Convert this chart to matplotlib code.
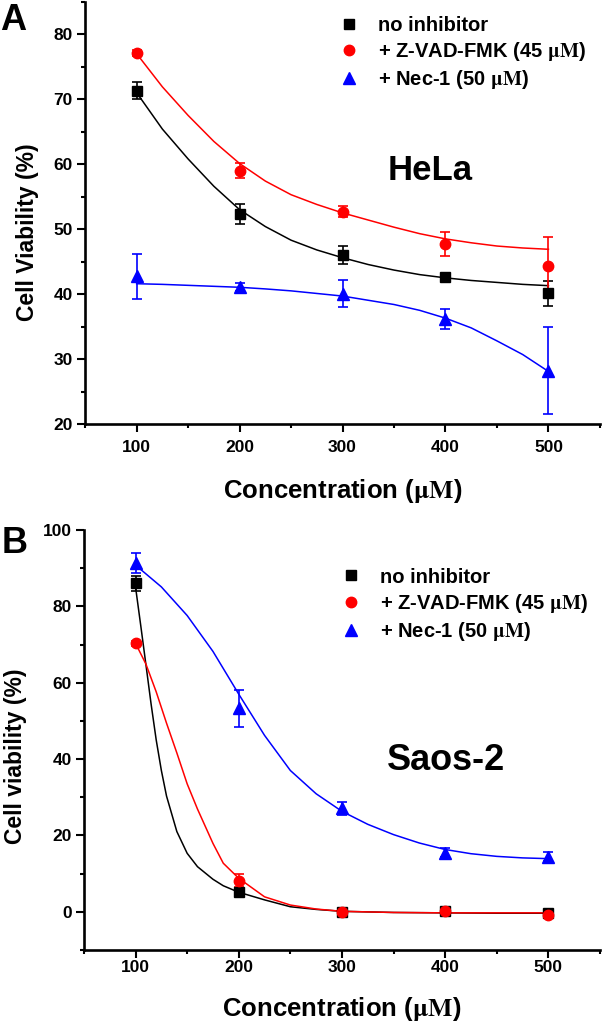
import matplotlib
matplotlib.use("Agg")
import matplotlib.pyplot as plt
from matplotlib.lines import Line2D
from matplotlib.ticker import MultipleLocator

plt.rcParams['font.family'] = ['Liberation Sans', 'DejaVu Sans']
plt.rcParams['font.weight'] = 'bold'
plt.rcParams['mathtext.fontset'] = 'stix'

# ---- data ----
conc = [100, 200, 300, 400, 500]

# A: HeLa
hela_none = [71.3, 52.3, 46.0, 42.6, 40.1]
hela_none_err = [1.3, 1.55, 1.35, 0.4, 1.9]
hela_zvad = [77.1, 59.0, 52.7, 47.7, 44.4]
hela_zvad_err = [0.4, 1.2, 0.8, 1.85, 4.4]
hela_nec = [42.75, 41.05, 40.05, 36.2, 28.2]
hela_nec_err = [3.5, 0.6, 2.05, 1.55, 6.7]

# fitted curves
hela_fit_x = [100, 125, 150, 175, 200, 225, 250, 275, 300, 325, 350, 375, 400, 425, 450, 475, 500]
hela_none_fit = [71.0, 65.4, 60.8, 56.6, 53.0, 50.4, 48.3, 46.8, 45.6, 44.55, 43.7, 43.0, 42.5, 42.1, 41.8, 41.5, 41.3]
hela_zvad_fit = [77.0, 71.9, 67.5, 63.5, 60.1, 57.4, 55.3, 53.8, 52.5, 51.4, 50.3, 49.3, 48.5, 47.9, 47.4, 47.1, 46.9]
hela_nec_fit = [41.6, 41.5, 41.35, 41.2, 41.05, 40.8, 40.5, 40.1, 39.7, 39.05, 38.4, 37.5, 36.3, 34.8, 32.8, 30.7, 28.1]

# B: Saos-2
saos_none = [86.0, 5.1, -0.1, 0.1, -0.4]
saos_none_err = [2.0, 0.5, 0.6, 0.5, 0.6]
saos_zvad = [70.3, 8.1, 0.0, 0.2, -0.9]
saos_zvad_err = [0.6, 1.7, 0.8, 0.8, 0.8]
saos_nec = [91.3, 53.3, 27.1, 15.5, 14.4]
saos_nec_err = [2.6, 4.8, 1.7, 1.2, 1.2]

saos_none_fit_x = [100, 105, 110, 115, 120, 125, 130, 140, 150, 160, 175, 185, 200, 225, 250, 275, 300, 350, 400, 450, 500]
saos_none_fit = [85.0, 75.0, 64.8, 54.5, 45.0, 37.0, 30.3, 21.0, 15.3, 11.8, 8.5, 6.8, 5.1, 3.1, 1.3, 0.6, 0.1, -0.2, -0.3, -0.4, -0.4]
saos_zvad_fit_x = [100, 110, 120, 130, 140, 150, 160, 175, 185, 200, 225, 250, 275, 300, 350, 400, 450, 500]
saos_zvad_fit = [70.3, 64.9, 57.6, 49.4, 41.6, 33.5, 26.9, 17.9, 12.7, 8.75, 3.9, 1.75, 0.7, 0.1, -0.2, -0.3, -0.3, -0.3]
saos_nec_fit_x = [100, 125, 150, 175, 200, 225, 250, 275, 300, 325, 350, 375, 400, 425, 450, 475, 500]
saos_nec_fit = [90.8, 85.1, 77.6, 68.2, 57.0, 46.2, 37.0, 30.9, 26.3, 22.9, 20.2, 18.0, 16.3, 15.2, 14.5, 14.1, 13.9]

labels = ["no inhibitor", r"+ Z-VAD-FMK (45 $\mathrm{\mu M}$)", r"+ Nec-1 (50 $\mathrm{\mu M}$)"]
colors = ["black", "#ff0000", "#0000ff"]
markers = ["s", "o", "^"]
msizes = [6.5, 7.5, 8]

fig = plt.figure(figsize=(6.02, 10.27), dpi=100)
axA = fig.add_axes([0.1415, 0.5871, 0.855, 0.4112])
axB = fig.add_axes([0.1395, 0.0751, 0.857, 0.4088])


def draw(ax, means, errs, fits):
    for i in range(3):
        fx, fy = fits[i]
        ax.plot(fx, fy, color=colors[i], lw=1.1, zorder=2)
    for i in range(3):
        ax.errorbar(conc, means[i], yerr=errs[i], fmt=markers[i], color=colors[i],
                    ms=msizes[i], mec=colors[i], elinewidth=1.2, capsize=3.3,
                    capthick=1.2, zorder=3)


def style(ax):
    for s in ["top", "right"]:
        ax.spines[s].set_visible(False)
    for s in ["left", "bottom"]:
        ax.spines[s].set_linewidth(1.9)
    ax.set_xlim(50, 550)
    ax.set_xticks(conc)
    ax.xaxis.set_minor_locator(MultipleLocator(50))
    ax.tick_params(which="major", direction="out", length=5.8, width=1.5, labelsize=12.5)
    ax.tick_params(which="minor", direction="out", length=3.0, width=1.5)
    ax.tick_params(axis="y", pad=3)


draw(axA, [hela_none, hela_zvad, hela_nec],
     [hela_none_err, hela_zvad_err, hela_nec_err],
     [(hela_fit_x, hela_none_fit), (hela_fit_x, hela_zvad_fit), (hela_fit_x, hela_nec_fit)])
style(axA)
axA.set_ylim(20, 85)
axA.set_yticks([20, 30, 40, 50, 60, 70, 80])
axA.yaxis.set_minor_locator(MultipleLocator(5))
axA.tick_params(axis="x", pad=6)
axA.set_ylabel("Cell Viability (%)", fontsize=16.5, fontweight="bold")
axA.set_xlabel(r"Concentration ($\mathrm{\mu M}$)", fontsize=18.5, fontweight="bold")
axA.yaxis.set_label_coords(-0.09, 0.455)
axA.xaxis.set_label_coords(0.5, -0.125)
axA.text(385, 59.0, "HeLa", ha="center", va="center", fontsize=25, fontweight="bold")

draw(axB, [saos_none, saos_zvad, saos_nec],
     [saos_none_err, saos_zvad_err, saos_nec_err],
     [(saos_none_fit_x, saos_none_fit), (saos_zvad_fit_x, saos_zvad_fit), (saos_nec_fit_x, saos_nec_fit)])
style(axB)
axB.set_ylim(-10, 100)
axB.set_yticks([0, 20, 40, 60, 80, 100])
axB.yaxis.set_minor_locator(MultipleLocator(10))
axB.tick_params(axis="x", pad=1.5)
axB.set_ylabel("Cell viability (%)", fontsize=16.5, fontweight="bold")
axB.set_xlabel(r"Concentration ($\mathrm{\mu M}$)", fontsize=18.5, fontweight="bold")
axB.yaxis.set_label_coords(-0.11, 0.462)
axB.xaxis.set_label_coords(0.5, -0.107)
axB.text(401, 39.5, "Saos-2", ha="center", va="center", fontsize=26, fontweight="bold")

# legends: markers only
handles = [Line2D([], [], ls="none", marker=markers[i], color=colors[i], ms=msizes[i])
           for i in range(3)]
for ax, top, left in [(axA, 0.9846, 339 / 602), (axB, 0.4474, 341 / 602)]:
    ax.legend(handles, labels, loc="upper left", bbox_to_anchor=(left, top),
              bbox_transform=fig.transFigure, frameon=False,
              handlelength=1.0, handletextpad=0.95, labelspacing=0.25,
              borderpad=0, borderaxespad=0, prop={"weight": "bold", "size": 14.5})

fig.text(0.0, 1 - 30 / 1027, "A", fontsize=26, fontweight="bold", ha="left", va="baseline")
fig.text(0.003, 1 - 553 / 1027, "B", fontsize=26, fontweight="bold", ha="left", va="baseline")

fig.savefig("out.png", dpi=100)
